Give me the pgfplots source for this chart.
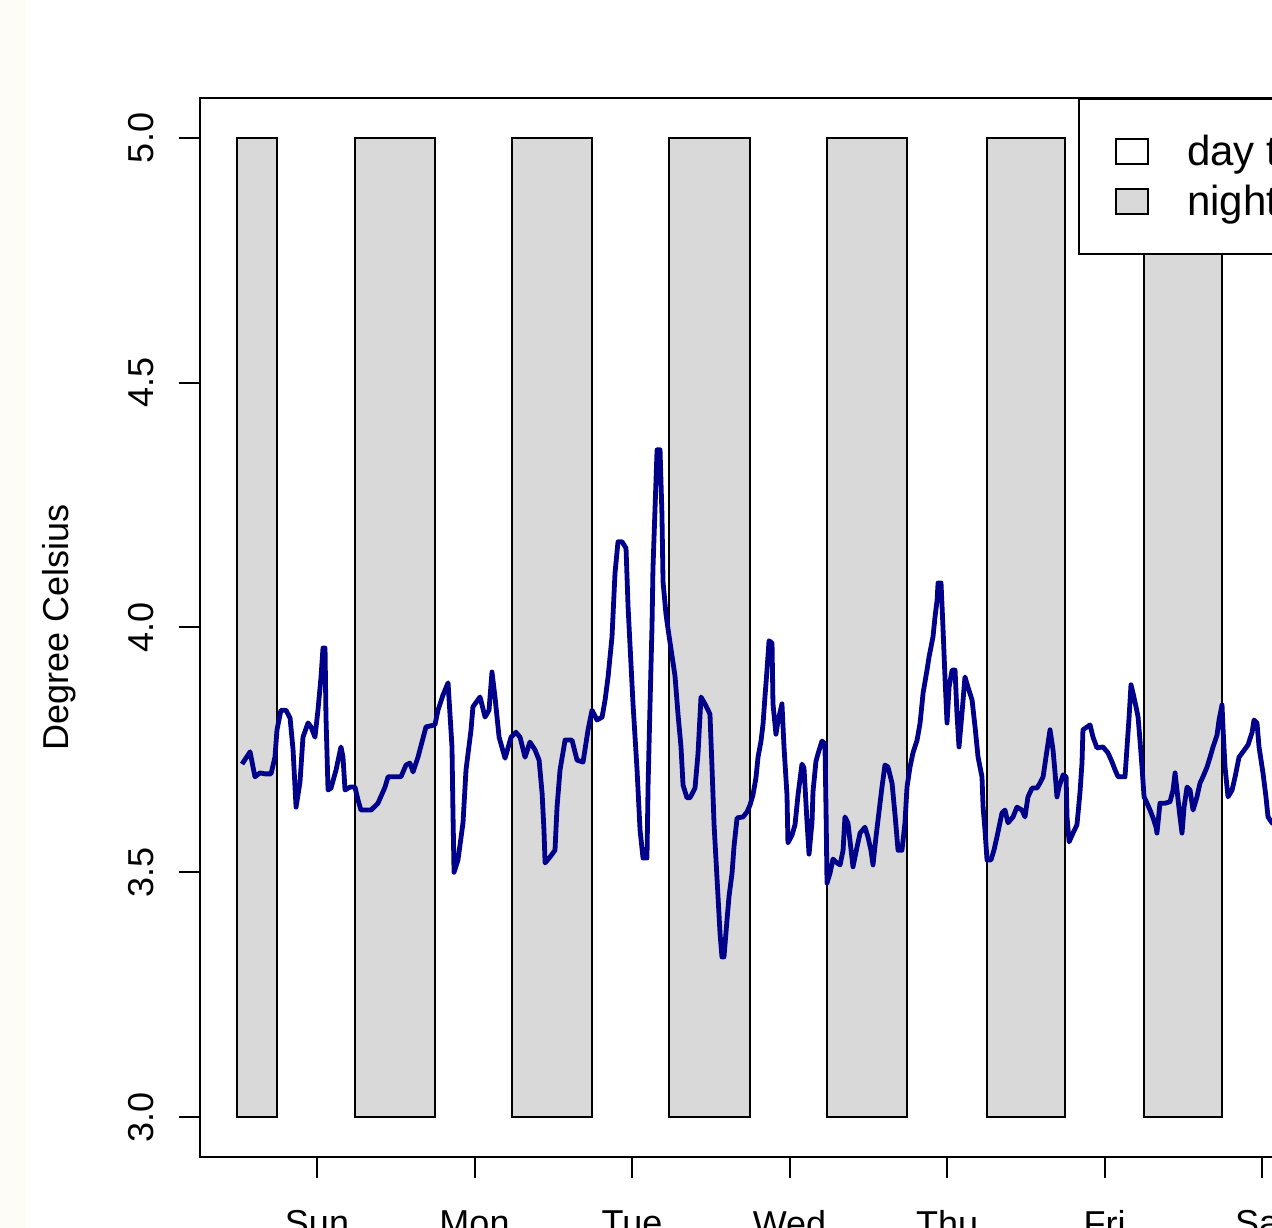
\documentclass[border=0pt]{standalone}
\usepackage{fontspec}
\setmainfont{Liberation Sans}
\usepackage{pgfplots}
\usepackage{pgfplotstable}
\pgfplotsset{compat=1.18}
\definecolor{nightgray}{RGB}{217,217,217}
\definecolor{linecol}{RGB}{0,0,139}
\definecolor{cream}{RGB}{253,252,246}

\pgfplotstableread{
x y
0.524 3.721
0.575 3.746
0.606 3.695
0.638 3.703
0.670 3.701
0.708 3.701
0.733 3.735
0.746 3.791
0.771 3.831
0.803 3.831
0.829 3.815
0.848 3.750
0.867 3.633
0.892 3.684
0.911 3.776
0.943 3.805
0.962 3.797
0.987 3.776
1.006 3.831
1.025 3.897
1.038 3.958
1.051 3.958
1.057 3.817
1.070 3.668
1.089 3.672
1.121 3.709
1.152 3.756
1.165 3.735
1.178 3.668
1.210 3.674
1.241 3.674
1.260 3.648
1.279 3.627
1.343 3.627
1.387 3.641
1.432 3.674
1.451 3.695
1.533 3.695
1.565 3.719
1.590 3.723
1.610 3.705
1.641 3.735
1.692 3.797
1.749 3.801
1.768 3.831
1.800 3.862
1.832 3.887
1.857 3.756
1.863 3.627
1.870 3.500
1.895 3.525
1.927 3.601
1.946 3.709
1.978 3.791
1.990 3.838
2.035 3.858
2.067 3.817
2.092 3.831
2.111 3.909
2.130 3.858
2.156 3.776
2.194 3.733
2.232 3.776
2.263 3.786
2.289 3.776
2.321 3.735
2.352 3.766
2.384 3.750
2.410 3.729
2.429 3.662
2.441 3.586
2.448 3.519
2.479 3.531
2.511 3.545
2.524 3.633
2.543 3.709
2.575 3.770
2.619 3.770
2.651 3.729
2.689 3.725
2.721 3.791
2.746 3.831
2.778 3.811
2.810 3.817
2.829 3.852
2.848 3.899
2.873 3.981
2.892 4.111
2.911 4.175
2.937 4.175
2.962 4.162
2.975 4.042
3.006 3.846
3.032 3.709
3.051 3.586
3.070 3.529
3.095 3.529
3.102 3.678
3.114 3.838
3.127 4.003
3.133 4.120
3.146 4.242
3.159 4.363
3.178 4.363
3.190 4.232
3.197 4.093
3.216 4.026
3.235 3.983
3.254 3.942
3.273 3.901
3.292 3.823
3.311 3.756
3.324 3.678
3.349 3.652
3.368 3.652
3.400 3.672
3.419 3.742
3.438 3.858
3.463 3.844
3.495 3.823
3.508 3.713
3.521 3.597
3.540 3.486
3.559 3.374
3.571 3.327
3.584 3.327
3.603 3.402
3.616 3.451
3.635 3.498
3.648 3.554
3.667 3.611
3.705 3.613
3.730 3.623
3.749 3.637
3.768 3.658
3.787 3.693
3.800 3.735
3.819 3.768
3.832 3.803
3.844 3.858
3.857 3.913
3.870 3.973
3.889 3.968
3.895 3.844
3.914 3.782
3.927 3.809
3.952 3.844
3.965 3.756
3.984 3.658
3.990 3.560
4.016 3.576
4.035 3.597
4.054 3.658
4.079 3.721
4.092 3.713
4.111 3.603
4.124 3.537
4.143 3.603
4.149 3.664
4.168 3.727
4.181 3.742
4.206 3.768
4.225 3.762
4.232 3.623
4.238 3.478
4.257 3.498
4.276 3.527
4.302 3.519
4.321 3.515
4.340 3.545
4.352 3.613
4.371 3.601
4.403 3.511
4.429 3.552
4.448 3.580
4.479 3.592
4.498 3.572
4.517 3.545
4.530 3.515
4.549 3.572
4.562 3.607
4.587 3.674
4.606 3.719
4.625 3.715
4.651 3.682
4.670 3.617
4.689 3.545
4.714 3.545
4.733 3.601
4.746 3.674
4.765 3.715
4.784 3.744
4.810 3.770
4.829 3.805
4.848 3.866
4.873 3.913
4.886 3.940
4.911 3.981
4.924 4.022
4.937 4.056
4.943 4.091
4.962 4.091
4.975 3.995
4.987 3.899
5.000 3.805
5.013 3.878
5.032 3.913
5.051 3.913
5.063 3.825
5.076 3.756
5.095 3.825
5.114 3.899
5.133 3.878
5.159 3.852
5.178 3.797
5.197 3.735
5.222 3.695
5.229 3.633
5.241 3.586
5.254 3.525
5.279 3.525
5.298 3.545
5.317 3.572
5.349 3.621
5.368 3.627
5.387 3.601
5.419 3.613
5.444 3.633
5.476 3.627
5.495 3.613
5.514 3.654
5.540 3.672
5.571 3.672
5.590 3.682
5.610 3.695
5.635 3.750
5.654 3.791
5.673 3.750
5.686 3.703
5.698 3.654
5.711 3.674
5.737 3.699
5.756 3.695
5.762 3.613
5.775 3.562
5.800 3.580
5.825 3.597
5.844 3.662
5.857 3.723
5.863 3.791
5.908 3.801
5.927 3.776
5.952 3.754
5.990 3.756
6.022 3.744
6.048 3.725
6.067 3.709
6.086 3.695
6.130 3.695
6.143 3.756
6.156 3.817
6.168 3.883
6.181 3.866
6.200 3.838
6.213 3.817
6.225 3.770
6.238 3.715
6.251 3.654
6.270 3.641
6.289 3.627
6.308 3.611
6.327 3.592
6.333 3.580
6.352 3.641
6.384 3.641
6.416 3.644
6.435 3.668
6.448 3.703
6.460 3.668
6.479 3.613
6.492 3.580
6.505 3.633
6.524 3.674
6.543 3.668
6.562 3.627
6.587 3.654
6.606 3.682
6.625 3.695
6.651 3.715
6.670 3.735
6.689 3.756
6.714 3.780
6.727 3.811
6.746 3.842
6.752 3.797
6.765 3.715
6.784 3.654
6.810 3.668
6.829 3.695
6.854 3.735
6.879 3.746
6.911 3.760
6.937 3.786
6.949 3.811
6.968 3.805
6.981 3.756
7.006 3.703
7.025 3.654
7.038 3.613
7.063 3.601
7.114 3.590
}\temptable

\begin{document}
\begin{tikzpicture}
\begin{axis}[
  x=78.75pt, y=244.75pt,
  xmin=0.2571, xmax=7.6, ymin=2.9183, ymax=5.0817,
  axis line style={line width=1pt},
  every tick/.style={line width=1pt, black},
  major tick length=10.5pt,
  tick align=outside, tick pos=left,
  xtick={1,2,3,4,5,6,7},
  xticklabels={Sun,Mon,Tue,Wed,Thu,Fri,Sat},
  ytick={3,3.5,4,4.5,5},
  /pgf/number format/assume math mode=true,
  ticklabel style={font=\fontsize{18}{22}\selectfont},
  yticklabel style={rotate=90, anchor=base, inner sep=0pt,
    /pgf/number format/fixed, /pgf/number format/fixed zerofill,
    /pgf/number format/precision=1},
  yticklabel shift=12.5pt,
  xticklabel style={anchor=north, inner sep=0pt},
  xticklabel shift=16pt,
  ylabel={Degree Celsius},
  ylabel style={at={(axis description cs:-0.1141,0.5)}, anchor=base, inner sep=0pt,
    font=\fontsize{18}{22}\selectfont},
  legend image code/.code={\draw[#1] (0pt,-6.25pt) rectangle (16pt,6.25pt);},
  legend cell align=left,
  legend style={at={(axis description cs:0.7592,1)}, anchor=north west,
    draw=black, line width=1pt, fill=white,
    font=\fontsize{21}{25}\selectfont,
    inner xsep=18pt, inner ysep=18pt, row sep=8.3pt,
    nodes={inner sep=0pt},
    /tikz/every odd column/.append style={column sep=19pt}},
]
\addplot[forget plot, fill=nightgray, draw=black, line width=1pt] coordinates {(0.492,3)(0.746,3)(0.746,5)(0.492,5)} -- cycle;
\addplot[forget plot, fill=nightgray, draw=black, line width=1pt] coordinates {(1.241,3)(1.749,3)(1.749,5)(1.241,5)} -- cycle;
\addplot[forget plot, fill=nightgray, draw=black, line width=1pt] coordinates {(2.238,3)(2.746,3)(2.746,5)(2.238,5)} -- cycle;
\addplot[forget plot, fill=nightgray, draw=black, line width=1pt] coordinates {(3.235,3)(3.749,3)(3.749,5)(3.235,5)} -- cycle;
\addplot[forget plot, fill=nightgray, draw=black, line width=1pt] coordinates {(4.238,3)(4.746,3)(4.746,5)(4.238,5)} -- cycle;
\addplot[forget plot, fill=nightgray, draw=black, line width=1pt] coordinates {(5.254,3)(5.749,3)(5.749,5)(5.254,5)} -- cycle;
\addplot[forget plot, fill=nightgray, draw=black, line width=1pt] coordinates {(6.251,3)(6.746,3)(6.746,5)(6.251,5)} -- cycle;
\addplot[forget plot, fill=nightgray, draw=black, line width=1pt] coordinates {(7.248,3)(7.746,3)(7.746,5)(7.248,5)} -- cycle;
\addplot[forget plot, color=linecol, line width=2.4pt, line join=round] table[x=x, y=y] {\temptable};
\addlegendimage{fill=white, draw=black, line width=1pt}
\addlegendentry{day time}
\addlegendimage{fill=nightgray, draw=black, line width=1pt}
\addlegendentry{night time}
\coordinate (bl) at (rel axis cs:0,0);
\coordinate (tl) at (rel axis cs:0,1);
\end{axis}
\fill[cream] ([shift={(-100pt,-35.5pt)}]bl) rectangle ([shift={(-87pt,49pt)}]tl);
\pgfresetboundingbox
\path[use as bounding box] ([shift={(-100pt,-35.5pt)}]bl) rectangle ([shift={(536pt,49pt)}]tl);
\end{tikzpicture}
\end{document}
